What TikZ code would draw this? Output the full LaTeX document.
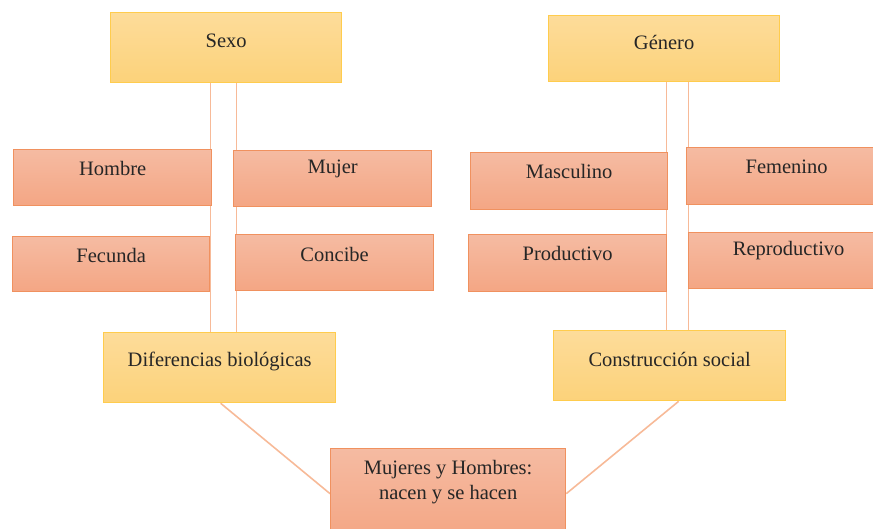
\documentclass[tikz,border=0pt]{standalone}
\usepackage{fontspec}
\setmainfont{Liberation Serif}
\usetikzlibrary{calc}
\pgfdeclarelayer{background}
\pgfsetlayers{background,main}
\definecolor{ytop}{HTML}{FDDC9A}
\definecolor{ybot}{HTML}{FCD27A}
\definecolor{yline}{HTML}{FFCC4D}
\definecolor{otop}{HTML}{F5BBA2}
\definecolor{obot}{HTML}{F4A684}
\definecolor{oline}{HTML}{F0915F}
\definecolor{conn}{HTML}{F7BA98}
\tikzset{
  ybox/.style={draw=yline, line width=1.3pt, top color=ytop, bottom color=ybot, anchor=north west, inner sep=0pt},
  obox/.style={draw=oline, line width=1.3pt, top color=otop, bottom color=obot, anchor=north west, inner sep=0pt},
  lbl/.style={font=\fontsize{20.5}{24}\selectfont, text=black!85, inner sep=0pt, align=center},
  connector/.style={draw=conn, line width=1.6pt}
}
\begin{document}
\begin{tikzpicture}[x=1pt,y=-1pt]
\useasboundingbox (0,0) rectangle (873,529);
% boxes
\node[ybox, minimum width=231pt, minimum height=70pt] (sexo) at (110,12) {};
\node[ybox, minimum width=231pt, minimum height=66pt] (genero) at (548,15) {};
\node[obox, minimum width=198pt, minimum height=56pt] (hombre) at (13,149) {};
\node[obox, minimum width=198pt, minimum height=56pt] (mujer) at (233,150) {};
\node[obox, minimum width=197pt, minimum height=55pt] (fecunda) at (12,236) {};
\node[obox, minimum width=198pt, minimum height=56pt] (concibe) at (235,234) {};
\node[obox, minimum width=197pt, minimum height=57pt] (masculino) at (470,152) {};
\node[obox, minimum width=200pt, minimum height=57pt] (femenino) at (686,147) {};
\node[obox, minimum width=198pt, minimum height=57pt] (productivo) at (468,234) {};
\node[obox, minimum width=200pt, minimum height=56pt] (reproductivo) at (688,232) {};
\node[ybox, minimum width=232pt, minimum height=70pt] (difbio) at (103,332) {};
\node[ybox, minimum width=232pt, minimum height=70pt] (constr) at (553,330) {};
\node[obox, minimum width=235pt, minimum height=90pt] (mujeres) at (330,448) {};
% labels
\node[lbl] at ([yshift=-29pt]sexo.north) {Sexo};
\node[lbl] at ([yshift=-27pt]genero.north) {Género};
\node[lbl] at ([yshift=-19pt]hombre.north) {Hombre};
\node[lbl] at ([yshift=-19pt]mujer.north) {Mujer};
\node[lbl] at ([yshift=-19pt]fecunda.north) {Fecunda};
\node[lbl] at ([yshift=-20pt]concibe.north) {Concibe};
\node[lbl] at ([yshift=-19pt]masculino.north) {Masculino};
\node[lbl] at ([yshift=-20pt]femenino.north) {Femenino};
\node[lbl] at ([yshift=-19pt]productivo.north) {Productivo};
\node[lbl] at ([yshift=-19pt]reproductivo.north) {Reproductivo};
\node[lbl] at ([yshift=-29pt]difbio.north) {Diferencias biológicas};
\node[lbl] at ([yshift=-29pt]constr.north) {Construcción social};
\node[lbl, font=\fontsize{20.5}{25}\selectfont] at ([yshift=-34pt]mujeres.north) {Mujeres y Hombres:\\nacen y se hacen};
% connectors
\begin{pgfonlayer}{background}
\draw[connector] ([xshift=-15.5pt]sexo.south) -- ([xshift=-9pt]difbio.north);
\draw[connector] ([xshift=10.5pt]sexo.south) -- ([xshift=17pt]difbio.north);
\draw[connector] ([xshift=2.5pt]genero.south) -- ([xshift=-3pt]constr.north);
\draw[connector] ([xshift=24.5pt]genero.south) -- ([xshift=19pt]constr.north);
\draw[connector] ([xshift=1pt]difbio.south) -- (mujeres.west);
\draw[connector] ([xshift=9pt]constr.south) -- (mujeres.east);
\end{pgfonlayer}
\end{tikzpicture}
\end{document}
